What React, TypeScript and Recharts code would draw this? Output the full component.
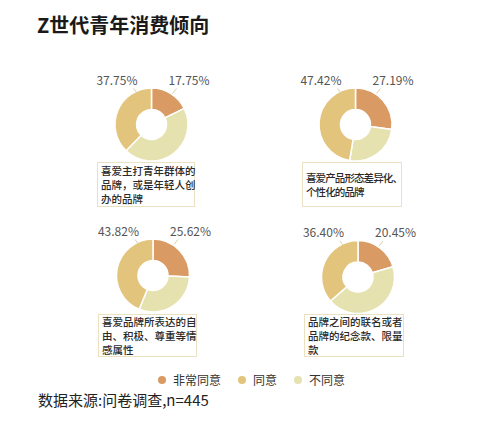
import React from "react";
import { PieChart, Pie, Cell, Legend } from "recharts";

// categories in legend order
const categories = ["非常同意", "同意", "不同意"];
const colors = ["#DA9A63", "#E3C47C", "#E5E2B0"];

// percentages for each survey item
const stronglyAgree = [17.75, 27.19, 25.62, 20.45];
const agree = [37.75, 47.42, 43.82, 36.4];
const disagree = [44.5, 25.39, 30.56, 43.15];

const itemTexts = [
  ["喜爱主打青年群体的", "品牌，或是年轻人创", "办的品牌"],
  ["喜爱产品形态差异化、", "个性化的品牌"],
  ["喜爱品牌所表达的自", "由、积极、尊重等情", "感属性"],
  ["品牌之间的联名或者", "品牌的纪念款、限量", "款"],
];

const FONT = '"Noto Sans CJK SC", "Noto Sans", sans-serif';

const pieCenters = [
  { cx: 146.5, cy: 119.5 },
  { cx: 350.5, cy: 119.5 },
  { cx: 148, cy: 270.5 },
  { cx: 353, cy: 272 },
];

const boxes = [
  { left: 97, top: 162, width: 98, height: 45, spacing: 0 },
  { left: 302, top: 162, width: 100, height: 45, spacing: -0.9 },
  { left: 98, top: 314, width: 99, height: 43, spacing: 0 },
  { left: 304, top: 314, width: 100, height: 43, spacing: 0 },
];

// clockwise from 12 o'clock: 非常同意, 不同意, 同意
const buildData = (i: number) => [
  { name: categories[0], value: stronglyAgree[i], color: colors[0] },
  { name: categories[2], value: disagree[i], color: colors[2] },
  { name: categories[1], value: agree[i], color: colors[1] },
];

const renderLabel = (props: any) => {
  const { cx, cy, index, value } = props;
  if (index === 1) return null;
  const right = index === 0;
  return (
    <text
      x={right ? cx + 17 : cx - 14}
      y={cy - 40}
      textAnchor={right ? "start" : "end"}
      fontSize={12}
      fontFamily={FONT}
      fill="#555"
    >
      {value.toFixed(2)}%
    </text>
  );
};

const renderLabelLine = (props: any) => {
  const { cx, cy, index } = props;
  if (index === 1) return <g />;
  const d =
    index === 0
      ? `M${cx + 21} ${cy - 31} L${cx + 25} ${cy - 36}`
      : `M${cx - 15} ${cy - 32} L${cx - 18} ${cy - 36}`;
  return <path d={d} stroke="#D9D0AC" strokeWidth={1} fill="none" />;
};

const renderLegend = () => (
  <div style={{ display: "flex", alignItems: "center", fontFamily: FONT, fontSize: 12, color: "#333" }}>
    {categories.map((c, i) => (
      <div key={c} style={{ display: "flex", alignItems: "center", marginRight: 17 }}>
        <span
          style={{
            display: "inline-block",
            width: 8,
            height: 8,
            borderRadius: 4,
            background: colors[i],
            marginRight: 7,
          }}
        />
        <span>{c}</span>
      </div>
    ))}
  </div>
);

export default function App() {
  return (
    <div style={{ position: "absolute", left: 0, top: 0, width: 500, height: 421, background: "#fff", fontFamily: FONT }}>
      <div
        style={{
          position: "absolute",
          left: 37,
          top: 12,
          fontSize: 20,
          fontWeight: 700,
          color: "#1a1a1a",
          lineHeight: "26px",
        }}
      >
        Z世代青年消费倾向
      </div>
      <PieChart width={500} height={421} style={{ position: "absolute", left: 0, top: 0 }}>
        {pieCenters.map((p, i) => (
          <Pie
            key={i}
            data={buildData(i)}
            dataKey="value"
            nameKey="name"
            cx={p.cx}
            cy={p.cy}
            innerRadius={15}
            outerRadius={36.5}
            startAngle={90}
            endAngle={-270}
            stroke="#fff"
            strokeWidth={1.5}
            label={renderLabel}
            labelLine={renderLabelLine}
            isAnimationActive={false}
          >
            {buildData(i).map((d) => (
              <Cell key={d.name} fill={d.color} />
            ))}
          </Pie>
        ))}
        <Legend
          content={renderLegend}
          wrapperStyle={{ position: "absolute", left: 158, top: 371, width: 220 }}
        />
      </PieChart>
      {boxes.map((b, i) => (
        <div
          key={i}
          style={{
            position: "absolute",
            left: b.left,
            top: b.top,
            width: b.width,
            height: b.height,
            boxSizing: "border-box",
            border: "1.5px solid #EBE1C2",
            display: "flex",
            flexDirection: "column",
            justifyContent: "center",
            paddingLeft: 3,
            fontSize: 10.5,
            fontWeight: 500,
            lineHeight: "14px",
            letterSpacing: b.spacing,
            color: "#2a2a2a",
            whiteSpace: "nowrap",
          }}
        >
          {itemTexts[i].map((t) => (
            <div key={t}>{t}</div>
          ))}
        </div>
      ))}
      <div
        style={{
          position: "absolute",
          left: 38,
          top: 390,
          fontSize: 15,
          color: "#222",
          lineHeight: "20px",
        }}
      >
        数据来源:问卷调查,n=445
      </div>
    </div>
  );
}
